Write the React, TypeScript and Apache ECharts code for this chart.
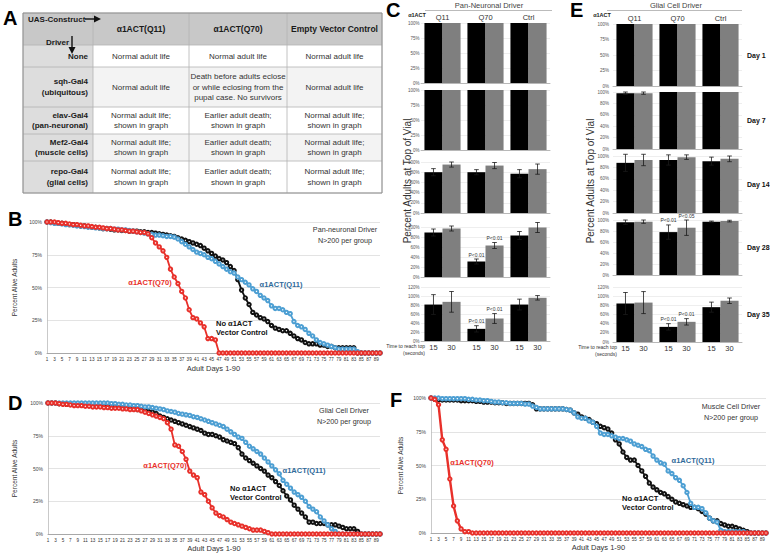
import React, { useEffect, useRef } from 'react';
import * as echarts from 'echarts';

const FONT = "'Liberation Sans', Arial, Helvetica, sans-serif";

// ---------- Survival curves (percent alive by day 1-90) ----------
const DAYS = Array.from({ length: 90 }, (_, i) => String(i + 1));

const B_CTRL = [
  100, 100, 99.5, 99, 99, 98.5, 98, 98, 97.5, 97,
  97, 96.5, 96, 96, 95.5, 95, 95, 94.5, 94, 94,
  93.5, 93.5, 93, 93, 93, 92.5, 92.5, 92, 92, 91.5,
  91, 90.5, 90, 89.5, 89, 88, 87, 86, 85, 84,
  83, 82, 80, 78, 76, 74, 72, 71, 69, 66,
  63, 56, 48, 42, 37, 31, 29, 27, 26, 24,
  21, 19, 18, 17, 17, 15, 13, 11, 10, 8,
  7, 7, 7, 6, 6, 5, 5, 4, 4, 4,
  4, 4, 4, 0, 0, 0, 0, 0, 0, 0,
];
const B_Q11 = [
  100, 99.5, 99, 99, 98.5, 98, 98, 97.5, 97, 97,
  96.5, 96, 96, 95.5, 95.5, 95, 95, 95, 94.5, 94.5,
  94, 94, 93.5, 93, 92.5, 92, 91.5, 91, 90.5, 90,
  90, 89.5, 89, 89, 88.5, 87, 85, 83, 81, 79,
  77, 76, 75, 73, 72, 70, 68, 66, 64, 62,
  61, 58, 56, 54, 52, 49, 47, 44, 42, 40,
  36, 34, 34, 33, 31, 30, 24, 21, 20, 18,
  15, 13, 10, 8, 7, 6, 5, 4, 3, 3,
  3, 3, 3, 1, 0, 0, 0, 0, 0, 0,
];
const B_Q70 = [
  100, 100, 100, 99.5, 99, 99, 98.5, 98, 98, 97.5,
  97, 97, 96.5, 96, 96, 95.5, 95, 95, 94.5, 94,
  94, 93.5, 93, 93, 92.5, 92, 92, 91, 88, 84,
  81, 78, 73, 64, 58, 53, 47, 42, 33, 27,
  26, 23, 20, 11, 11, 10, 0, 0, 0, 0,
  0, 0, 0, 0, 0, 0, 0, 0, 0, 0,
  0, 0, 0, 0, 0, 0, 0, 0, 0, 0,
  0, 0, 0, 0, 0, 0, 0, 0, 0, 0,
  0, 0, 0, 0, 0, 0, 0, 0, 0, 0,
];

const D_CTRL = [
  100, 100, 100, 99.5, 99.5, 99, 99, 99, 98.5, 98.5,
  98.5, 98, 98, 98, 98, 97.5, 97.5, 97, 97, 97,
  96.5, 96, 96, 95.5, 95, 94.5, 94, 93.5, 93, 92,
  90, 89, 88, 87, 86, 85, 84, 83, 82, 81,
  80, 79, 77, 76, 76, 75, 74, 72, 71, 70,
  69, 66, 61, 58, 56, 54, 52, 50, 48, 45,
  43, 40, 37, 33, 29, 26, 22, 19, 16, 13,
  9, 9, 8, 8, 8, 7, 7, 7, 6, 5,
  4, 4, 4, 2, 0, 0, 0, 0, 0, 0,
];
const D_Q11 = [
  100, 100, 100, 100, 100, 100, 100, 100, 100, 100,
  100, 100, 100, 100, 100, 100, 100, 99.5, 99.5, 99,
  99, 98.5, 98.5, 98, 98, 97.5, 97, 97, 96.5, 96,
  95.5, 95, 94, 93.5, 93, 92, 91.5, 91, 90.5, 89.5,
  89, 88, 87, 86, 85, 84, 83, 82, 80, 78,
  76, 74, 73, 70, 67, 65, 63, 61, 58, 55,
  52, 49, 46, 41, 38, 35, 32, 30, 28, 25,
  21, 19, 17, 13, 10, 7, 4, 2, 0, 0,
  0, 0, 0, 0, 0, 0, 0, 0, 0, 0,
];
const D_Q70 = [
  100, 100, 100, 99.5, 99, 99, 98.5, 98, 98, 98,
  97.5, 97.5, 97, 97, 97, 96.5, 96.5, 96, 96, 96,
  95.5, 95.5, 95, 95, 95, 94, 93, 92, 91, 90,
  89, 88, 85, 80, 68, 67, 63, 57, 48, 45,
  43, 32, 30, 25, 20, 16, 14, 13, 11, 9,
  8, 7, 6, 5, 4, 3, 3, 3, 2, 1,
  0, 0, 0, 0, 0, 0, 0, 0, 0, 0,
  0, 0, 0, 0, 0, 0, 0, 0, 0, 0,
  0, 0, 0, 0, 0, 0, 0, 0, 0, 0,
];

const F_CTRL = [
  100, 99, 98.5, 98.5, 98.5, 98.5, 98.5, 98.5, 98, 98,
  98, 98, 97.5, 97.5, 97, 97, 97, 96.5, 96.5, 96.5,
  96, 96, 96, 96, 96, 96, 96, 95, 92, 92,
  92, 92, 92, 92, 92, 92, 91.5, 91, 89, 88,
  86, 85, 84, 82, 81, 79, 78, 77, 74, 69,
  66, 60, 56, 54, 54, 50, 46, 42, 37, 34,
  32, 30, 29, 27, 25, 23, 22, 21, 20, 19,
  19, 18, 16, 14, 11, 9, 9, 7, 6, 5,
  5, 4, 3, 2, 1, 0, 0, 0, 0, 0,
];
const F_Q11 = [
  100, 100, 100, 99.5, 99.5, 99.5, 99.5, 99.5, 99.5, 99.5,
  99, 99, 98.5, 98.5, 98, 98, 97.5, 97, 97, 96.5,
  96.5, 96, 96, 96, 96, 95.5, 95.5, 94, 93, 92,
  92, 92, 92, 92, 92, 92, 91.5, 91, 89, 86,
  85, 85, 83, 82, 79, 74, 73, 73, 72, 71,
  70, 70, 69, 68, 66, 65, 64, 62, 61, 57,
  54, 52, 51, 46, 44, 41, 39, 35, 30, 22,
  19, 19, 18, 15, 11, 9, 8, 2, 1, 1,
  1, 1, 1, 1, 0, 0, 0, 0, 0, 0,
];
const F_Q70 = [
  100, 99, 95, 69, 62, 40, 20, 9, 3, 1,
  1, 0, 0, 0, 0, 0, 0, 0, 0, 0,
  0, 0, 0, 0, 0, 0, 0, 0, 0, 0,
  0, 0, 0, 0, 0, 0, 0, 0, 0, 0,
  0, 0, 0, 0, 0, 0, 0, 0, 0, 0,
  0, 0, 0, 0, 0, 0, 0, 0, 0, 0,
  0, 0, 0, 0, 0, 0, 0, 0, 0, 0,
  0, 0, 0, 0, 0, 0, 0, 0, 0, 0,
  0, 0, 0, 0, 0, 0, 0, 0, 0, 0,
];

// ---------- Climbing assay bars (percent at top of vial) ----------
const GROUPS = ['Q11', 'Q70', 'Ctrl'];
const TIME_LABELS = ['15', '30'];

// Pan-neuronal (C)
const C1_15 = [100, 100, 100]; const C1_30 = [100, 100, 100];
const C1_E15 = [0, 0, 0]; const C1_E30 = [0, 0, 0];
const C2_15 = [100, 100, 100]; const C2_30 = [100, 100, 100];
const C2_E15 = [0, 0, 0]; const C2_E30 = [0, 0, 0];
const C3_15 = [80, 80, 77]; const C3_30 = [95, 93, 86];
const C3_E15 = [7, 5, 8]; const C3_E30 = [5, 6, 10];
const C4_15 = [89, 31, 83]; const C4_30 = [97, 63, 99];
const C4_E15 = [7, 5, 8]; const C4_E30 = [5, 6, 10];
const C4_P15 = ['', 'P<0.01', '']; const C4_P30 = ['', 'P<0.01', ''];
const C5_15 = [81, 27, 81]; const C5_30 = [87, 50, 96];
const C5_E15 = [22, 7, 12]; const C5_E30 = [23, 11, 5];
const C5_P15 = ['', 'P<0.01', '']; const C5_P30 = ['', 'P<0.01', ''];

// Glial (E)
const E1_15 = [100, 100, 100]; const E1_30 = [100, 100, 100];
const E1_E15 = [0, 0, 0]; const E1_E30 = [0, 0, 0];
const E2_15 = [98, 100, 100]; const E2_30 = [98, 100, 100];
const E2_E15 = [2, 0, 0]; const E2_E30 = [2, 0, 0];
const E3_15 = [88, 93, 91]; const E3_30 = [93, 98, 95];
const E3_E15 = [15, 9, 7]; const E3_E30 = [10, 4, 5];
const E4_15 = [96, 78, 97]; const E4_30 = [97, 86, 98];
const E4_E15 = [4, 13, 1]; const E4_E30 = [3, 14, 1.5];
const E4_P15 = ['', 'P<0.01', '']; const E4_P30 = ['', 'P<0.05', ''];
const E5_15 = [84, 33, 76]; const E5_30 = [86, 44, 90];
const E5_E15 = [24, 7, 11]; const E5_E30 = [24, 7, 6];
const E5_P15 = ['', 'P<0.01', '']; const E5_P30 = ['', 'P<0.01', ''];

const DAY_LABELS = ['Day 1', 'Day 7', 'Day 14', 'Day 28', 'Day 35'];

// ---------- Table A ----------
const COL_HEADERS = ['α1ACT(Q11)', 'α1ACT(Q70)', 'Empty Vector Control'];
const ROW_HEADERS = ['None', 'sqh-Gal4\n(ubiquitous)', 'elav-Gal4\n(pan-neuronal)', 'Mef2-Gal4\n(muscle cells)', 'repo-Gal4\n(glial cells)'];
const CELLS = [
  ['Normal adult life', 'Normal adult life', 'Normal adult life'],
  ['Normal adult life', 'Death before adults eclose\nor while eclosing from the\npupal case. No survivors', 'Normal adult life'],
  ['Normal adult life;\nshown in graph', 'Earlier adult death;\nshown in graph', 'Normal adult life;\nshown in graph'],
  ['Normal adult life;\nshown in graph', 'Earlier adult death;\nshown in graph', 'Normal adult life;\nshown in graph'],
  ['Normal adult life;\nshown in graph', 'Earlier adult death;\nshown in graph', 'Normal adult life;\nshown in graph'],
];

const RED = '#e8302a';
const BLUE = '#4d9fd3';
const BLUE_TXT = '#2f6a9a';
const BLACK = '#111111';

function txt(x: number, y: number, text: string, o: any = {}) {
  return {
    type: 'text', x, y, rotation: o.rotation || 0, silent: true, z: 100,
    style: {
      text, fontFamily: FONT, fontSize: o.size || 8, fontWeight: o.bold ? 'bold' : 'normal',
      fill: o.color || '#222', align: o.align || 'center', verticalAlign: o.va || 'middle',
      lineHeight: o.lh || undefined,
    },
  };
}
function ln(x1: number, y1: number, x2: number, y2: number, color = '#aaa', w = 0.8) {
  return { type: 'line', silent: true, z: 100, shape: { x1, y1, x2, y2 }, style: { stroke: color, lineWidth: w } };
}

function buildOption() {
  const grid: any[] = [];
  const xAxis: any[] = [];
  const yAxis: any[] = [];
  const series: any[] = [];
  const elements: any[] = [];

  // ---- curve panels ----
  const curves = [
    { left: 47, top: 222, width: 333, height: 131, ctrl: B_CTRL, q11: B_Q11, q70: B_Q70, nameGap: 29, xGap: 11, redW: 1.8 },
    { left: 48, top: 403, width: 332, height: 131, ctrl: D_CTRL, q11: D_Q11, q70: D_Q70, nameGap: 30, xGap: 10, redW: 1.8 },
    { left: 431, top: 398, width: 335, height: 135, ctrl: F_CTRL, q11: F_Q11, q70: F_Q70, nameGap: 27, xGap: 10, redW: 2.4 },
  ];
  curves.forEach((c, gi) => {
    grid.push({ left: c.left, top: c.top, width: c.width, height: c.height, containLabel: false, outerBoundsMode: 'none' });
    xAxis.push({
      type: 'category', gridIndex: gi, data: DAYS, boundaryGap: false,
      axisLine: { lineStyle: { color: '#999', width: 0.8 } }, axisTick: { show: false },
      axisLabel: { interval: 1, fontSize: 4.6, color: '#333', margin: 3.5, fontFamily: FONT },
      splitLine: { show: false },
      name: 'Adult Days 1-90', nameLocation: 'middle', nameGap: c.xGap,
      nameTextStyle: { fontSize: 7.5, color: '#333', fontFamily: FONT },
    });
    yAxis.push({
      type: 'value', gridIndex: gi, min: 0, max: 100, interval: 25,
      axisLine: { show: true, lineStyle: { color: '#bbb', width: 0.8 } }, axisTick: { show: false },
      axisLabel: { formatter: '{value}%', fontSize: 5, color: '#444', margin: 5, fontFamily: FONT },
      splitLine: { lineStyle: { color: '#dcdcdc', width: 0.8 } },
      name: 'Percent Alive Adults', nameLocation: 'middle', nameGap: c.nameGap, nameRotate: 90,
      nameTextStyle: { fontSize: 6.5, color: '#333', fontFamily: FONT },
    });
    const mk = (data: number[], color: string, w: number, z: number) => ({
      type: 'line', xAxisIndex: gi, yAxisIndex: gi, data, symbol: 'emptyCircle', symbolSize: 3.4,
      showSymbol: true, showAllSymbol: true, z, silent: true,
      lineStyle: { color, width: w }, itemStyle: { color, borderWidth: 0.9 },
    });
    series.push(mk(c.ctrl, BLACK, 1.8, 2));
    series.push(mk(c.q11, BLUE, 1.8, 3));
    series.push(mk(c.q70, RED, c.redW, 4));
  });

  // ---- bar panels ----
  const barPanels = [
    { left: 421, top: 23, h: 60, max: 100, step: 25, a: C1_15, b: C1_30, ea: C1_E15, eb: C1_E30 },
    { left: 421, top: 90, h: 60, max: 100, step: 25, a: C2_15, b: C2_30, ea: C2_E15, eb: C2_E30 },
    { left: 421, top: 162, h: 51, max: 100, step: 20, a: C3_15, b: C3_30, ea: C3_E15, eb: C3_E30 },
    { left: 421, top: 227, h: 50, max: 100, step: 20, a: C4_15, b: C4_30, ea: C4_E15, eb: C4_E30, pa: C4_P15, pb: C4_P30 },
    { left: 421, top: 287, h: 54, max: 120, step: 20, a: C5_15, b: C5_30, ea: C5_E15, eb: C5_E30, pa: C5_P15, pb: C5_P30, bottom: true },
    { left: 613, top: 24, h: 62, max: 100, step: 25, a: E1_15, b: E1_30, ea: E1_E15, eb: E1_E30 },
    { left: 613, top: 92, h: 57, max: 100, step: 20, a: E2_15, b: E2_30, ea: E2_E15, eb: E2_E30 },
    { left: 613, top: 156, h: 57, max: 100, step: 20, a: E3_15, b: E3_30, ea: E3_E15, eb: E3_E30 },
    { left: 613, top: 220, h: 55, max: 100, step: 20, a: E4_15, b: E4_30, ea: E4_E15, eb: E4_E30, pa: E4_P15, pb: E4_P30 },
    { left: 613, top: 287, h: 55, max: 120, step: 20, a: E5_15, b: E5_30, ea: E5_E15, eb: E5_E30, pa: E5_P15, pb: E5_P30, bottom: true },
  ];

  const errSeries = (ai: number, vals: number[], errs: number[], side: number, pl?: string[]) => ({
    type: 'custom', coordinateSystem: 'cartesian2d', xAxisIndex: ai, yAxisIndex: ai,
    data: vals.map((v, i) => [i, v]), encode: { x: 0, y: 1 }, z: 6, silent: true, clip: false,
    renderItem: (params: any, api: any) => {
      const i = params.dataIndex;
      const v = vals[i];
      const e = errs[i];
      const p = pl ? pl[i] : '';
      const base = api.coord([i, v]);
      const band = api.size([1, 0])[0];
      const x = base[0] + side * band * 0.21;
      const children: any[] = [];
      let topY = base[1];
      if (e > 0) {
        const t = api.coord([i, v + e])[1];
        const b = api.coord([i, v - e])[1];
        topY = t;
        const st = { stroke: '#1a1a1a', lineWidth: 0.8 };
        children.push({ type: 'line', shape: { x1: x, y1: t, x2: x, y2: b }, style: st });
        children.push({ type: 'line', shape: { x1: x - 2.3, y1: t, x2: x + 2.3, y2: t }, style: st });
        children.push({ type: 'line', shape: { x1: x - 2.3, y1: b, x2: x + 2.3, y2: b }, style: st });
      }
      if (p) {
        children.push({
          type: 'text', x, y: topY - 2,
          style: { text: p, fontSize: 5, fontFamily: FONT, fill: '#333', align: 'center', verticalAlign: 'bottom' },
        });
      }
      return { type: 'group', children };
    },
  });

  const timeSeries = (ai: number) => ({
    type: 'custom', coordinateSystem: 'cartesian2d', xAxisIndex: ai, yAxisIndex: ai,
    data: GROUPS.map((_, i) => [i, 0]), encode: { x: 0, y: 1 }, z: 6, silent: true, clip: false,
    renderItem: (params: any, api: any) => {
      const i = params.dataIndex;
      const c = api.coord([i, 0]);
      const band = api.size([1, 0])[0];
      return {
        type: 'group',
        children: TIME_LABELS.map((t, k) => ({
          type: 'text', x: c[0] + (k === 0 ? -1 : 1) * band * 0.21, y: c[1] + 2.5,
          style: { text: t, fontSize: 7.5, fontFamily: FONT, fill: '#333', align: 'center', verticalAlign: 'top' },
        })),
      };
    },
  });

  barPanels.forEach((p, k) => {
    const gi = grid.length;
    grid.push({ left: p.left, top: p.top, width: 129, height: p.h, containLabel: false, outerBoundsMode: 'none' });
    xAxis.push({
      type: 'category', gridIndex: gi, data: GROUPS,
      axisLine: { lineStyle: { color: '#aaa', width: 0.8 } }, axisTick: { show: false },
      axisLabel: { show: false }, splitLine: { show: false },
    });
    yAxis.push({
      type: 'value', gridIndex: gi, min: 0, max: p.max, interval: p.step,
      axisLine: { show: false }, axisTick: { show: false },
      axisLabel: { formatter: '{value}%', fontSize: 4.5, color: '#555', margin: p.left < 500 ? 1.5 : 4, fontFamily: FONT },
      splitLine: { lineStyle: { color: '#e2e2e2', width: 0.6 } },
    });
    series.push({
      type: 'bar', xAxisIndex: gi, yAxisIndex: gi, data: p.a, barWidth: '42%', barGap: '0%',
      itemStyle: { color: '#000' }, silent: true, z: 2,
    });
    series.push({
      type: 'bar', xAxisIndex: gi, yAxisIndex: gi, data: p.b, barWidth: '42%', barGap: '0%',
      itemStyle: { color: '#7f7f7f' }, silent: true, z: 2,
    });
    series.push(errSeries(gi, p.a, p.ea, -1, p.pa));
    series.push(errSeries(gi, p.b, p.eb, 1, p.pb));
    if (p.bottom) series.push(timeSeries(gi));
    if (k >= 5) {
      elements.push(txt(747, p.top + p.h / 2, DAY_LABELS[k - 5], { size: 7, bold: true, color: '#111', align: 'left' }));
    }
  });

  // group labels on top of first subplots (C1 = grid 3, E1 = grid 8)
  [3, 8].forEach((gi) => {
    xAxis.push({
      type: 'category', gridIndex: gi, position: 'top', data: GROUPS,
      axisLine: { show: false }, axisTick: { show: false },
      axisLabel: { fontSize: 7.5, color: '#333', margin: 2, fontFamily: FONT },
      splitLine: { show: false },
    });
  });

  // ---- Table A ----
  const cx = [23, 93, 189, 287, 382];
  const ry = [13, 45, 67, 107, 134, 161, 193];
  elements.push({ type: 'rect', silent: true, z: 90, shape: { x: cx[0], y: ry[0], width: cx[4] - cx[0], height: ry[1] - ry[0] }, style: { fill: '#c8c8c8' } });
  for (let r = 0; r < 5; r++) {
    const y0 = ry[r + 1];
    const h = ry[r + 2] - y0;
    elements.push({ type: 'rect', silent: true, z: 90, shape: { x: cx[0], y: y0, width: cx[1] - cx[0], height: h }, style: { fill: '#dddddd' } });
    elements.push({ type: 'rect', silent: true, z: 90, shape: { x: cx[1], y: y0, width: cx[4] - cx[1], height: h }, style: { fill: r % 2 === 1 ? '#f3f3f3' : '#ffffff' } });
  }
  ry.forEach((y) => elements.push(ln(cx[0], y, cx[4], y, '#b3b3b3', 0.8)));
  cx.forEach((x) => elements.push(ln(x, ry[0], x, ry[6], '#b3b3b3', 0.8)));
  elements.push({ type: 'rect', silent: true, z: 100, shape: { x: cx[0], y: ry[0], width: cx[4] - cx[0], height: ry[6] - ry[0] }, style: { fill: 'none', stroke: '#8f8f8f', lineWidth: 0.9 } });
  COL_HEADERS.forEach((h, i) => elements.push(txt((cx[i + 1] + cx[i + 2]) / 2, (ry[0] + ry[1]) / 2, h, { size: 8.5, bold: true, color: '#1a1a1a' })));
  ROW_HEADERS.forEach((h, r) => elements.push(txt(88, (ry[r + 1] + ry[r + 2]) / 2, h, { size: 8, bold: true, align: 'right', color: '#1a1a1a', lh: 10.5 })));
  CELLS.forEach((row, r) => row.forEach((c, i) => elements.push(txt((cx[i + 1] + cx[i + 2]) / 2, (ry[r + 1] + ry[r + 2]) / 2, c, { size: 8, color: '#333', lh: 10.5 }))));
  elements.push(txt(28, 19, 'UAS-Construct', { size: 8, bold: true, align: 'left', color: '#1a1a1a' }));
  elements.push(ln(85, 19, 95, 19, '#111', 1.4));
  elements.push({ type: 'polygon', silent: true, z: 100, shape: { points: [[94, 15.5], [94, 22.5], [101, 19]] }, style: { fill: '#111' } });
  elements.push(txt(46, 42, 'Driver', { size: 8, bold: true, align: 'left', color: '#1a1a1a' }));
  elements.push(ln(72, 36, 72, 48, '#111', 1.4));
  elements.push({ type: 'polygon', silent: true, z: 100, shape: { points: [[68.5, 47], [75.5, 47], [72, 54]] }, style: { fill: '#111' } });

  // ---- panel letters ----
  const L = (x: number, y: number, t: string) => txt(x, y, t, { size: 20, bold: true, align: 'left', color: '#000' });
  elements.push(L(3, 18, 'A'), L(8, 219, 'B'), L(386, 10, 'C'), L(8, 403, 'D'), L(570, 10, 'E'), L(390, 400, 'F'));

  // ---- curve annotations ----
  const note = (x: number, y1: number, y2: number, a: string) => {
    elements.push(txt(x, y1, a, { size: 7.2, color: '#333' }));
    elements.push(txt(x, y2, 'N>200 per group', { size: 7.2, color: '#333' }));
  };
  note(345, 229, 240, 'Pan-neuronal Driver');
  note(344, 410, 421, 'Glial Cell Driver');
  note(731, 406, 417, 'Muscle Cell Driver');
  const lab = (x: number, y: number, t: string, color: string) => elements.push(txt(x, y, t, { size: 7.5, bold: true, color }));
  lab(150, 282, 'α1ACT(Q70)', RED); lab(281, 284, 'α1ACT(Q11)', BLUE_TXT);
  lab(165, 465, 'α1ACT(Q70)', RED); lab(304, 470, 'α1ACT(Q11)', BLUE_TXT);
  lab(472, 462, 'α1ACT(Q70)', RED); lab(693, 460, 'α1ACT(Q11)', BLUE_TXT);
  const ctl = (x: number, y: number) => {
    elements.push(txt(x, y, 'No α1ACT', { size: 7.5, bold: true, align: 'left', color: '#111' }));
    elements.push(txt(x, y + 9, 'Vector Control', { size: 7.5, bold: true, align: 'left', color: '#111' }));
  };
  ctl(216, 323); ctl(230, 488); ctl(622, 498);

  // ---- bar panel headers ----
  elements.push(txt(489, 5, 'Pan-Neuronal Driver', { size: 7.5, color: '#444' }));
  elements.push(ln(425, 10.5, 552, 10.5, '#aaa', 0.8));
  elements.push(txt(676, 5, 'Glial Cell Driver', { size: 7.5, color: '#444' }));
  elements.push(ln(607, 10.5, 742, 10.5, '#aaa', 0.8));
  elements.push(txt(417, 15, 'α1ACT', { size: 5.5, bold: true, color: '#222' }));
  elements.push(txt(602, 15, 'α1ACT', { size: 5.5, bold: true, color: '#222' }));
  elements.push(txt(407, 181, 'Percent Adults at Top of Vial', { size: 10, color: '#333', rotation: Math.PI / 2 }));
  elements.push(txt(590, 181, 'Percent Adults at Top of Vial', { size: 10, color: '#333', rotation: Math.PI / 2 }));
  elements.push(txt(425, 346, 'Time to reach top', { size: 5, color: '#333', align: 'right' }));
  elements.push(txt(425, 353, '(seconds)', { size: 5, color: '#333', align: 'right' }));
  elements.push(txt(617, 347, 'Time to reach top', { size: 5, color: '#333', align: 'right' }));
  elements.push(txt(617, 354, '(seconds)', { size: 5, color: '#333', align: 'right' }));

  return {
    animation: false,
    backgroundColor: '#ffffff',
    textStyle: { fontFamily: FONT },
    grid, xAxis, yAxis, series,
    graphic: { elements },
  };
}

export default function App() {
  const ref = useRef<HTMLDivElement>(null);
  useEffect(() => {
    if (!ref.current) return;
    const chart = echarts.init(ref.current, null, { renderer: 'svg', width: 770, height: 554 });
    chart.setOption(buildOption() as any);
    return () => chart.dispose();
  }, []);
  return (
    <div
      ref={ref}
      style={{ position: 'fixed', left: 0, top: 0, width: 770, height: 554, background: '#fff' }}
    />
  );
}
